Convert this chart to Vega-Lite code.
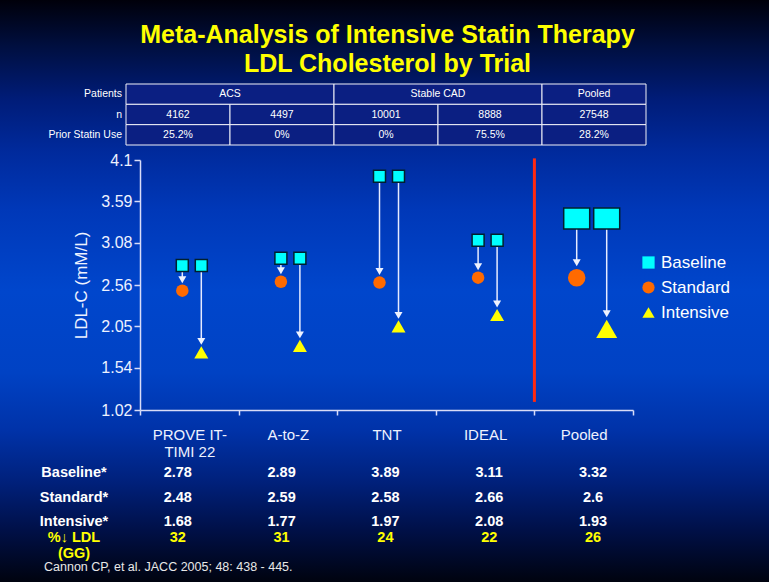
{
  "$schema": "https://vega.github.io/schema/vega-lite/v6.json",
  "width": 769,
  "height": 582,
  "autosize": {"type": "none"},
  "padding": 0,
  "background": "#001040",
  "title": {
    "text": ["Meta-Analysis of Intensive Statin Therapy", "LDL Cholesterol by Trial"],
    "orient": "top",
    "anchor": "middle",
    "frame": "group",
    "offset": -102,
    "baseline": "bottom",
    "lineHeight": 29,
    "fontSize": 25,
    "font": "Liberation Sans",
    "fontWeight": "bold",
    "color": "#ffff00",
    "dx": 3
  },
  "config": {
    "font": "Liberation Sans",
    "legend": {"title": null},
    "view": {
      "stroke": null,
      "fill": {
        "gradient": "linear",
        "x1": 0, "y1": 0, "x2": 0, "y2": 1,
        "stops": [
          {"offset": 0, "color": "#00000a"},
          {"offset": 0.08, "color": "#000f40"},
          {"offset": 0.17, "color": "#001c78"},
          {"offset": 0.26, "color": "#002a9c"},
          {"offset": 0.36, "color": "#0038b8"},
          {"offset": 0.5, "color": "#0046cc"},
          {"offset": 0.64, "color": "#0042c4"},
          {"offset": 0.74, "color": "#0032a8"},
          {"offset": 0.83, "color": "#00207a"},
          {"offset": 0.91, "color": "#001048"},
          {"offset": 1, "color": "#00030f"}
        ]
      }
    }
  },
  "datasets": {
    "top_table": [
      {"row": "Patients", "x0": 0, "x1": 2, "label": "ACS"},
      {"row": "Patients", "x0": 2, "x1": 4, "label": "Stable CAD"},
      {"row": "Patients", "x0": 4, "x1": 5, "label": "Pooled"},
      {"row": "n", "x0": 0, "x1": 1, "label": "4162"},
      {"row": "n", "x0": 1, "x1": 2, "label": "4497"},
      {"row": "n", "x0": 2, "x1": 3, "label": "10001"},
      {"row": "n", "x0": 3, "x1": 4, "label": "8888"},
      {"row": "n", "x0": 4, "x1": 5, "label": "27548"},
      {"row": "Prior Statin Use", "x0": 0, "x1": 1, "label": "25.2%"},
      {"row": "Prior Statin Use", "x0": 1, "x1": 2, "label": "0%"},
      {"row": "Prior Statin Use", "x0": 2, "x1": 3, "label": "0%"},
      {"row": "Prior Statin Use", "x0": 3, "x1": 4, "label": "75.5%"},
      {"row": "Prior Statin Use", "x0": 4, "x1": 5, "label": "28.2%"}
    ],
    "row_names": [
      {"row": "Patients"},
      {"row": "n"},
      {"row": "Prior Statin Use"}
    ],
    "plot": [
      {"trial": "PROVE IT-TIMI 22", "group": "trial", "arm": "Standard", "baseline": 2.80, "value": 2.49},
      {"trial": "PROVE IT-TIMI 22", "group": "trial", "arm": "Intensive", "baseline": 2.80, "value": 1.73},
      {"trial": "A-to-Z", "group": "trial", "arm": "Standard", "baseline": 2.89, "value": 2.60},
      {"trial": "A-to-Z", "group": "trial", "arm": "Intensive", "baseline": 2.89, "value": 1.81},
      {"trial": "TNT", "group": "trial", "arm": "Standard", "baseline": 3.90, "value": 2.59},
      {"trial": "TNT", "group": "trial", "arm": "Intensive", "baseline": 3.90, "value": 2.05},
      {"trial": "IDEAL", "group": "trial", "arm": "Standard", "baseline": 3.11, "value": 2.65},
      {"trial": "IDEAL", "group": "trial", "arm": "Intensive", "baseline": 3.11, "value": 2.19},
      {"trial": "Pooled", "group": "pooled", "arm": "Standard", "baseline": 3.38, "value": 2.65},
      {"trial": "Pooled", "group": "pooled", "arm": "Intensive", "baseline": 3.38, "value": 2.02}
    ],
    "table": [
      {"trial": "PROVE IT-TIMI 22", "baseline": 2.78, "standard": 2.48, "intensive": 1.68, "reduction": 32},
      {"trial": "A-to-Z", "baseline": 2.89, "standard": 2.59, "intensive": 1.77, "reduction": 31},
      {"trial": "TNT", "baseline": 3.89, "standard": 2.58, "intensive": 1.97, "reduction": 24},
      {"trial": "IDEAL", "baseline": 3.11, "standard": 2.66, "intensive": 2.08, "reduction": 22},
      {"trial": "Pooled", "baseline": 3.32, "standard": 2.6, "intensive": 1.93, "reduction": 26}
    ],
    "bottom_rows": [
      {"key": "baseline", "label": "Baseline*"},
      {"key": "standard", "label": "Standard*"},
      {"key": "intensive", "label": "Intensive*"}
    ]
  },
  "resolve": {"scale": {"x": "independent", "y": "independent"}},
  "layer": [
    {
      "data": {"name": "top_table"},
      "layer": [
        {
          "mark": {"type": "rect", "fill": "#0b1f82", "stroke": "#f0f0f8", "strokeWidth": 1},
          "encoding": {
            "x": {"field": "x0", "type": "quantitative", "scale": {"domain": [0, 5], "range": [126, 646], "nice": false, "zero": false}, "axis": null},
            "x2": {"field": "x1"},
            "y": {"field": "row", "type": "nominal", "scale": {"domain": ["Patients", "n", "Prior Statin Use"], "range": [84, 145], "paddingInner": 0, "paddingOuter": 0}, "axis": null}
          }
        },
        {
          "transform": [{"filter": "datum.x1 - datum.x0 == 1"}],
          "mark": {"type": "text", "dx": 52, "fontSize": 10.5, "color": "#ffffff", "baseline": "middle"},
          "encoding": {
            "x": {"field": "x0", "type": "quantitative"},
            "y": {"field": "row", "type": "nominal"},
            "text": {"field": "label"}
          }
        },
        {
          "transform": [{"filter": "datum.x1 - datum.x0 == 2"}],
          "mark": {"type": "text", "dx": 104, "fontSize": 10.5, "color": "#ffffff", "baseline": "middle"},
          "encoding": {
            "x": {"field": "x0", "type": "quantitative"},
            "y": {"field": "row", "type": "nominal"},
            "text": {"field": "label"}
          }
        },
        {
          "data": {"name": "row_names"},
          "mark": {"type": "text", "dx": -4, "align": "right", "fontSize": 10.5, "color": "#ffffff", "baseline": "middle"},
          "encoding": {
            "x": {"datum": 0, "type": "quantitative"},
            "y": {"field": "row", "type": "nominal"},
            "text": {"field": "row"}
          }
        }
      ]
    },
    {
      "data": {"name": "plot"},
      "layer": [
        {
          "data": {"values": [{}]},
          "mark": {"type": "rule", "color": "#ff2a10", "strokeWidth": 3},
          "encoding": {
            "x": {"datum": "Pooled", "type": "nominal", "bandPosition": 0},
            "y": {"datum": 4.12, "type": "quantitative"},
            "y2": {"datum": 1.12}
          }
        },
        {
          "mark": {
            "type": "rule", "color": "#e6ebff", "strokeWidth": 1.5,
            "xOffset": {"expr": "datum.arm == 'Standard' ? -7 : (datum.group == 'pooled' ? 23 : 12)"},
            "yOffset": {"expr": "datum.group == 'pooled' ? 10.5 : 6"},
            "y2Offset": {"expr": "datum.group == 'pooled' ? -15 : -11"}
          },
          "encoding": {
            "x": {
              "field": "trial", "type": "nominal",
              "scale": {"domain": ["PROVE IT-TIMI 22", "A-to-Z", "TNT", "IDEAL", "Pooled"], "range": [140, 633], "paddingInner": 0, "paddingOuter": 0},
              "axis": {
                "orient": "bottom", "offset": -172, "tickBand": "extent", "labelAngle": 0, "labelAlign": "center", "labelBaseline": "top",
                "labelFontSize": 15, "labelColor": "#eef2ff", "labelFont": "Liberation Sans",
                "tickColor": "#d8dcf8", "domainColor": "#d8dcf8", "domainWidth": 1.5, "tickWidth": 1.5, "tickSize": 5,
                "labelPadding": 12, "labelLineHeight": 17, "title": null,
                "labelExpr": "datum.value == 'PROVE IT-TIMI 22' ? ['PROVE IT-', 'TIMI 22'] : datum.value"
              }
            },
            "y": {
              "field": "baseline", "type": "quantitative",
              "scale": {"domain": [1.02, 4.1], "range": [410, 160], "nice": false, "zero": false},
              "axis": {
                "orient": "left", "offset": -140, "values": [1.02, 1.54, 2.05, 2.56, 3.08, 3.59, 4.1],
                "format": ".3~r", "grid": false, "labelFontSize": 16, "labelColor": "#eef2ff", "labelFont": "Liberation Sans",
                "tickColor": "#d8dcf8", "domainColor": "#d8dcf8", "domainWidth": 1.5, "tickWidth": 1.5, "tickSize": 6, "labelPadding": 2,
                "title": "LDL-C (mM/L)", "titleFontSize": 17, "titleFontWeight": "normal", "titleColor": "#eef2ff", "titleFont": "Liberation Sans", "titlePadding": 10
              }
            },
            "y2": {"field": "value"}
          }
        },
        {
          "transform": [{"filter": "datum.group == 'trial'"}],
          "mark": {
            "type": "point", "filled": true, "opacity": 1, "size": 144, "stroke": "#00202e", "strokeWidth": 1.5,
            "xOffset": {"expr": "datum.arm == 'Standard' ? -7 : (datum.group == 'pooled' ? 23 : 12)"}
          },
          "encoding": {
            "x": {"field": "trial", "type": "nominal"},
            "y": {"field": "baseline", "type": "quantitative"},
            "color": {
              "datum": "Baseline", "type": "nominal",
              "scale": {"domain": ["Baseline", "Standard", "Intensive"], "range": ["#00ffff", "#ff6a00", "#ffff00"]},
              "legend": {"orient": "none", "legendX": 640, "legendY": 254, "title": null, "labelFontSize": 17, "labelColor": "#ffffff", "labelFont": "Liberation Sans", "symbolSize": 150, "rowPadding": 7, "labelOffset": 4, "symbolStrokeWidth": 0}
            },
            "shape": {
              "datum": "Baseline", "type": "nominal",
              "scale": {"domain": ["Baseline", "Standard", "Intensive"], "range": ["square", "circle", "triangle-up"]},
              "legend": {"orient": "none", "legendX": 640, "legendY": 254, "title": null, "labelFontSize": 17, "labelColor": "#ffffff", "labelFont": "Liberation Sans", "symbolSize": 150, "rowPadding": 7, "labelOffset": 4, "symbolStrokeWidth": 0}
            }
          }
        },
        {
          "transform": [{"filter": "datum.group == 'pooled'"}],
          "mark": {
            "type": "point", "filled": true, "opacity": 1, "size": 676, "shape": "M-1,-0.81H1V0.81H-1Z", "stroke": "#00202e", "strokeWidth": 1.5,
            "xOffset": {"expr": "datum.arm == 'Standard' ? -7 : (datum.group == 'pooled' ? 23 : 12)"}
          },
          "encoding": {
            "x": {"field": "trial", "type": "nominal"},
            "y": {"field": "baseline", "type": "quantitative"},
            "color": {"datum": "Baseline", "type": "nominal", "legend": {"title": null}}
          }
        },
        {
          "mark": {
            "type": "point", "filled": true, "opacity": 1,
            "size": {"expr": "datum.group == 'pooled' ? (datum.arm == 'Standard' ? 306 : 441) : (datum.arm == 'Standard' ? 156 : 196)"},
            "xOffset": {"expr": "datum.arm == 'Standard' ? -7 : (datum.group == 'pooled' ? 23 : 12)"}
          },
          "encoding": {
            "x": {"field": "trial", "type": "nominal"},
            "y": {"field": "value", "type": "quantitative"},
            "color": {"field": "arm", "type": "nominal", "legend": {"title": null}},
            "shape": {"field": "arm", "type": "nominal", "legend": {"title": null}}
          }
        },
        {
          "mark": {
            "type": "point", "shape": "triangle-down", "filled": true, "opacity": 1, "color": "#eef2ff", "size": 64,
            "xOffset": {"expr": "datum.arm == 'Standard' ? -7 : (datum.group == 'pooled' ? 23 : 12)"},
            "yOffset": {"expr": "datum.group == 'pooled' ? -15 : -11"}
          },
          "encoding": {
            "x": {"field": "trial", "type": "nominal"},
            "y": {"field": "value", "type": "quantitative"}
          }
        }
      ]
    },
    {
      "layer": [
        {
          "data": {"name": "table"},
          "transform": [{"fold": ["baseline", "standard", "intensive"], "as": ["key", "val"]}],
          "mark": {"type": "text", "fontSize": 14.5, "fontWeight": "bold", "color": "#ffffff", "baseline": "middle"},
          "encoding": {
            "x": {"field": "trial", "type": "nominal", "scale": {"type": "point", "domain": ["row label", "PROVE IT-TIMI 22", "A-to-Z", "TNT", "IDEAL", "Pooled"], "range": [74, 593], "padding": 0}, "axis": null},
            "y": {"field": "key", "type": "nominal", "scale": {"type": "point", "domain": ["baseline", "standard", "intensive"], "range": [473, 522], "padding": 0}, "axis": null},
            "text": {"field": "val", "type": "nominal"}
          }
        },
        {
          "data": {"name": "bottom_rows"},
          "mark": {"type": "text", "fontSize": 14.5, "fontWeight": "bold", "color": "#ffffff", "baseline": "middle"},
          "encoding": {
            "x": {"datum": "row label", "type": "nominal"},
            "y": {"field": "key", "type": "nominal"},
            "text": {"field": "label"}
          }
        }
      ]
    },
    {
      "layer": [
        {
          "data": {"name": "table"},
          "mark": {"type": "text", "fontSize": 14.5, "fontWeight": "bold", "color": "#ffff00", "baseline": "middle"},
          "encoding": {
            "x": {"field": "trial", "type": "nominal", "scale": {"type": "point", "domain": ["row label", "PROVE IT-TIMI 22", "A-to-Z", "TNT", "IDEAL", "Pooled"], "range": [74, 593], "padding": 0}, "axis": null},
            "y": {"datum": "pct", "type": "nominal", "scale": {"type": "point", "domain": ["pct", "cite"], "range": [538, 567], "padding": 0}, "axis": null},
            "text": {"field": "reduction", "type": "nominal"}
          }
        },
        {
          "data": {"values": [{"label": "%↓ LDL\n(GG)"}]},
          "mark": {"type": "text", "fontSize": 14.5, "fontWeight": "bold", "color": "#ffff00", "baseline": "middle", "lineBreak": "\n", "lineHeight": 16},
          "encoding": {
            "x": {"datum": "row label", "type": "nominal"},
            "y": {"datum": "pct", "type": "nominal"},
            "text": {"field": "label"}
          }
        },
        {
          "data": {"values": [{"label": "Cannon CP, et al. JACC 2005; 48: 438 - 445."}]},
          "mark": {"type": "text", "fontSize": 12.5, "color": "#e8e8e8", "baseline": "middle", "align": "left", "dx": -30},
          "encoding": {
            "x": {"datum": "row label", "type": "nominal"},
            "y": {"datum": "cite", "type": "nominal"},
            "text": {"field": "label"}
          }
        }
      ]
    }
  ]
}
